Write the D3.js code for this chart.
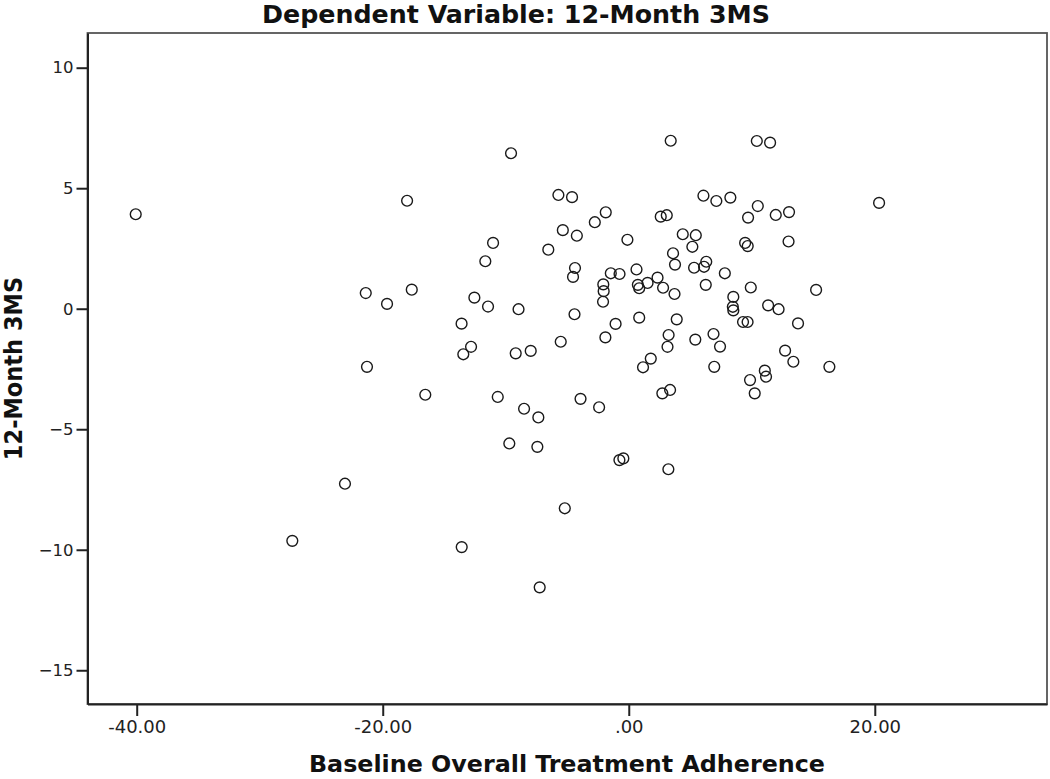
<!DOCTYPE html>
<html>
<head>
<meta charset="utf-8">
<script src="https://cdn.jsdelivr.net/npm/d3@7"></script>
<style>
  html, body { margin: 0; padding: 0; background: #fff; }
  svg { display: block; }
</style>
</head>
<body>
<svg id="chart" width="1050" height="779"></svg>
<script>
// ---- data ----
const titleText = "Dependent Variable: 12-Month 3MS";
const xLabel = "Baseline Overall Treatment Adherence";
const yLabel = "12-Month 3MS";
const xTicks = [-40, -20, 0, 20];
const yTicks = [10, 5, 0, -5, -10, -15];
const xTickLabels = ["-40.00", "-20.00", ".00", "20.00"];

const adherence = [
  -40.08, -27.35, -23.07, -21.38, -21.28, -19.65, -18.02, -17.64, -16.54, -13.59,
  -13.45, -12.82, -12.55, -11.66, -11.44, -11.03, -10.65, -9.71, -9.57, -9.19,
  -8.96, -8.51, -7.97, -7.43, -7.35, -7.24, -6.54, -5.72, -5.53, -13.58,
  -5.20, -5.36, -4.61, -4.37, -4.53, -4.41, -4.22, -3.92, -2.41, -2.76,
  -1.87, -1.46, -0.75, -2.07, -2.04, -2.09, -1.07, -1.90, -0.76, -0.44,
  -0.11, 0.63, 0.74, 0.85, 1.53, 2.34, 2.79, 3.72, 0.85, 1.79,
  1.16, 3.24, 3.15, 2.60, 3.09, 3.41, 2.73, 3.36, 3.22, 3.60,
  3.76, 4.39, 5.45, 5.17, 5.31, 6.30, 6.12, 6.26, 3.90, 5.41,
  6.89, 7.42, 6.95, 6.07, 7.12, 8.26, 10.49, 9.70, 11.95, 13.03,
  10.41, 11.49, 9.46, 9.67, 12.99, 7.81, 9.92, 15.23, 8.50, 8.46,
  8.50, 11.33, 12.18, 9.29, 9.66, 13.76, 12.71, 13.38, 16.31, 11.06,
  11.16, 9.86, 10.24, 20.35
];
const month12 = [
  3.92, -9.63, -7.26, 0.65, -2.41, 0.20, 4.48, 0.79, -3.57, -0.62,
  -1.89, -1.58, 0.46, 1.97, 0.09, 2.73, -3.66, -5.59, 6.45, -1.85,
  -0.02, -4.15, -1.75, -5.73, -4.51, -11.56, 2.45, 4.72, -1.37, -9.89,
  -8.28, 3.26, 4.63, 1.69, 1.32, -0.23, 3.03, -3.74, -4.09, 3.59,
  4.00, 1.47, 1.44, 1.01, 0.73, 0.29, -0.63, -1.19, -6.28, -6.21,
  2.86, 1.63, 0.99, 0.85, 1.07, 1.29, 0.87, 0.61, -0.37, -2.07,
  -2.43, -1.09, -1.58, 3.82, 3.88, 6.97, -3.51, -3.37, -6.66, 2.30,
  1.83, 3.09, 3.05, 2.57, 1.70, 1.95, 1.74, 0.99, -0.44, -1.28,
  -1.05, -1.57, -2.41, 4.69, 4.47, 4.61, 4.26, 3.78, 3.89, 4.01,
  6.96, 6.89, 2.73, 2.60, 2.79, 1.47, 0.88, 0.78, 0.49, 0.08,
  -0.07, 0.14, -0.02, -0.55, -0.55, -0.61, -1.74, -2.20, -2.41, -2.57,
  -2.82, -2.96, -3.51, 4.39
];

// ---- layout ----
const svg = d3.select("#chart");
const plotLeft = 87.5, plotRight = 1047, plotTop = 33, plotBottom = 704;

const x = d3.scaleLinear().domain([-44, 34]).range([plotLeft, plotRight]);
const y = d3.scaleLinear().domain([-16.4, 11.44]).range([plotBottom, plotTop]);

const tickFont = "'DejaVu Sans', sans-serif";
const titleFont = "'DejaVu Sans Condensed', 'DejaVu Sans', sans-serif";

// frame
svg.append("rect")
  .attr("x", plotLeft).attr("y", plotTop)
  .attr("width", plotRight - plotLeft).attr("height", plotBottom - plotTop)
  .attr("fill", "#fff").attr("stroke", "#555").attr("stroke-width", 1.8);

// x axis
const xAxis = d3.axisBottom(x)
  .tickValues(xTicks)
  .tickSize(12)
  .tickSizeOuter(0)
  .tickPadding(4)
  .tickFormat((d, i) => xTickLabels[i]);
const gx = svg.append("g").attr("transform", `translate(0,${plotBottom})`).call(xAxis);
gx.select(".domain").attr("stroke", "#222").attr("stroke-width", 2);
gx.selectAll(".tick line").attr("stroke", "#222").attr("stroke-width", 2);
gx.selectAll(".tick text")
  .attr("font-family", tickFont).attr("font-size", 18).attr("fill", "#222");

// y axis
const yAxis = d3.axisLeft(y)
  .tickValues(yTicks)
  .tickSize(11)
  .tickSizeOuter(0)
  .tickPadding(3)
  .tickFormat(d3.format("d"));
const gy = svg.append("g").attr("transform", `translate(${plotLeft},0)`).call(yAxis);
gy.select(".domain").attr("stroke", "#222").attr("stroke-width", 2);
gy.selectAll(".tick line").attr("stroke", "#222").attr("stroke-width", 2);
gy.selectAll(".tick text")
  .attr("font-family", tickFont).attr("font-size", 16.5).attr("fill", "#222");

// points
const pts = adherence.map((v, i) => ({ a: v, m: month12[i] }));
svg.append("g").selectAll("circle").data(pts).join("circle")
  .attr("cx", d => x(d.a))
  .attr("cy", d => y(d.m))
  .attr("r", 5.4)
  .attr("fill", "none")
  .attr("stroke", "#1a1a1a")
  .attr("stroke-width", 1.4);

// titles
svg.append("text")
  .attr("x", 516).attr("y", 23)
  .attr("text-anchor", "middle")
  .attr("font-family", titleFont).attr("font-weight", "bold").attr("font-size", 24)
  .attr("textLength", 508).attr("lengthAdjust", "spacingAndGlyphs")
  .attr("fill", "#111")
  .text(titleText);

svg.append("text")
  .attr("x", 567).attr("y", 772)
  .attr("text-anchor", "middle")
  .attr("font-family", titleFont).attr("font-weight", "bold").attr("font-size", 23)
  .attr("textLength", 516).attr("lengthAdjust", "spacingAndGlyphs")
  .attr("fill", "#111")
  .text(xLabel);

svg.append("text")
  .attr("transform", `translate(22,${(plotTop + plotBottom) / 2}) rotate(-90)`)
  .attr("text-anchor", "middle")
  .attr("font-family", titleFont).attr("font-weight", "bold").attr("font-size", 25)
  .attr("fill", "#111")
  .text(yLabel);
</script>
</body>
</html>
